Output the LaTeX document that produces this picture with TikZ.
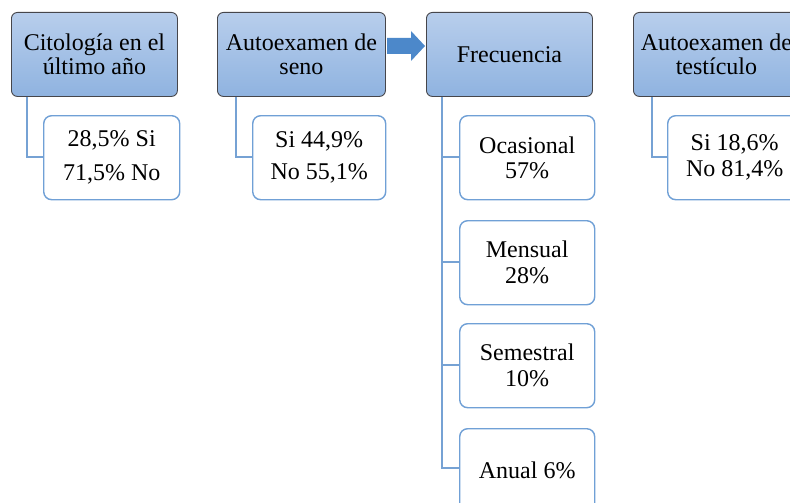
\documentclass[tikz,border=0pt]{standalone}
\usepackage{fontspec}
\setmainfont{Liberation Serif}
\definecolor{hdrtop}{RGB}{184,206,236}
\definecolor{hdrbot}{RGB}{143,179,224}
\definecolor{hdrline}{RGB}{70,70,75}
\definecolor{kidline}{RGB}{112,160,214}
\definecolor{connline}{RGB}{118,162,212}
\definecolor{arrowblue}{RGB}{76,136,202}
\tikzset{
  hdr/.style={draw=hdrline, line width=0.9pt, rounded corners=6pt,
    top color=hdrtop, bottom color=hdrbot, minimum height=84pt,
    anchor=north west, align=center, inner sep=0pt,
    font=\fontsize{24}{24}\selectfont},
  kid/.style={draw=kidline, line width=1.4pt, fill=white, rounded corners=8pt,
    minimum height=84pt, anchor=north west, align=center, inner sep=0pt},
  conn/.style={draw=connline, line width=2pt}
}
\begin{document}
\begin{tikzpicture}[x=1pt,y=-1pt]
\path[use as bounding box] (0,0) rectangle (790,503);
\clip (0,0) rectangle (790,503);
\fill[white] (0,0) rectangle (790,503);

% headers
\node[hdr, minimum width=166pt] (h1) at (11,12) {Citología en el\\último año};
\node[hdr, minimum width=168pt] (h2) at (217,12) {Autoexamen de\\seno};
\node[hdr, minimum width=166pt] (h3) at (426,12) {Frecuencia};
\node[hdr, minimum width=166pt] (h4) at (633,12) {Autoexamen de\\testículo};

% connectors (drawn before children)
\draw[conn] ([xshift=16pt]h1.south west) |- (43,157) coordinate (j1);
\draw[conn] ([xshift=19pt]h2.south west) |- (252,157) coordinate (j2);
\draw[conn] ([xshift=16pt]h3.south west) |- (459,468) coordinate (j6);
\draw[conn] ([xshift=16pt]h3.south west) |- (459,157) coordinate (j3);
\draw[conn] ([xshift=16pt]h3.south west) |- (459,262) coordinate (j4);
\draw[conn] ([xshift=16pt]h3.south west) |- (459,365) coordinate (j5);
\draw[conn] ([xshift=19pt]h4.south west) |- (667,157) coordinate (j7);

% children
\node[kid, minimum width=136pt, font=\fontsize{24}{34}\selectfont] (c1) at (43,115) {28,5\% Si\\71,5\% No};
\node[kid, minimum width=133pt, font=\fontsize{24}{32}\selectfont] (c2) at (252,115) {Si 44,9\%\\No 55,1\%};
\node[kid, minimum width=135pt, font=\fontsize{24}{25}\selectfont] (f1) at (459,115) {Ocasional\\57\%};
\node[kid, minimum width=135pt, font=\fontsize{24}{26}\selectfont] (f2) at (459,220) {Mensual\\28\%};
\node[kid, minimum width=135pt, font=\fontsize{24}{26}\selectfont] (f3) at (459,323) {Semestral\\10\%};
\node[kid, minimum width=135pt, font=\fontsize{24}{26}\selectfont] (f4) at (459,428) {Anual 6\%};
\node[kid, minimum width=134pt, font=\fontsize{24}{26}\selectfont] (c4) at (667,115) {Si 18,6\%\\No 81,4\%};

% block arrow between h2 and h3
\fill[arrowblue] (387,38) -- (411,38) -- (411,31) -- (425,46) -- (411,61) -- (411,54) -- (387,54) -- cycle;
\end{tikzpicture}
\end{document}
